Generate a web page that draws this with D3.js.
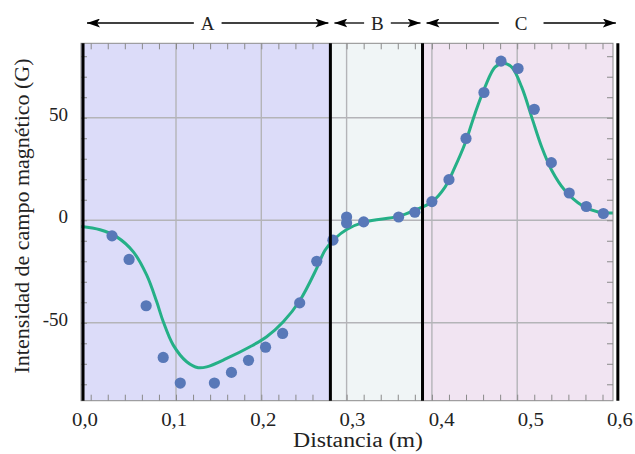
<!DOCTYPE html>
<html>
<head>
<meta charset="utf-8">
<script src="https://cdn.jsdelivr.net/npm/d3@7"></script>
<style>
  body { margin: 0; background: white; }
  text { font-family: "Liberation Serif", "DejaVu Serif", serif; fill: #222; }
</style>
</head>
<body>
<div id="dviz"></div>
<script>
//<<< Data >>>

// measured points (distance in m, field in G)
const pointX = [0.025, 0.045, 0.065, 0.085, 0.105, 0.145, 0.165, 0.185, 0.205, 0.225,
                0.245, 0.265, 0.284, 0.300, 0.300, 0.320, 0.361, 0.380, 0.400, 0.420,
                0.440, 0.461, 0.481, 0.501, 0.520, 0.540, 0.561, 0.581, 0.601];
const pointY = [-7.6, -19.1, -41.7, -66.9, -79.4, -79.4, -74.2, -68.3, -61.9, -55.2,
                -40.3, -20.0, -9.7, 1.6, -1.3, -0.8, 1.6, 3.9, 9.1, 19.8,
                39.9, 62.3, 77.6, 74.0, 54.1, 28.1, 13.3, 6.7, 3.3];

// model curve
const curveX = [-0.0114, 0.011, 0.0305, 0.050, 0.0657, 0.0774, 0.0851, 0.0968, 0.1125, 0.1261,
                0.136, 0.1594, 0.1868, 0.2063, 0.2258, 0.2454, 0.2649, 0.2747, 0.2864, 0.3001,
                0.3216, 0.3606, 0.3802, 0.3998, 0.4154, 0.4271, 0.4388, 0.4505, 0.4622, 0.474,
                0.4837, 0.4936, 0.5053, 0.517, 0.5287, 0.5404, 0.5558, 0.5756, 0.5951, 0.6127];
const curveY = [-3.0, -4.6, -8.1, -15.4, -26.8, -39.8, -49.5, -60.9, -69.0, -71.9,
                -71.5, -67.4, -61.7, -56.8, -49.5, -39.0, -23.5, -14.6, -8.9, -4.5,
                -0.8, 1.9, 4.9, 8.9, 16.2, 26.0, 37.4, 52.0, 64.9, 74.7,
                76.6, 74.7, 64.9, 50.3, 35.7, 24.4, 14.6, 7.3, 4.0, 3.6];

// regions and their borders
const regionNames = ["A", "B", "C"];
const regionBounds = [-0.009, 0.281, 0.389, 0.618];
const regionColors = ["#dcdcf9", "#f0f5f6", "#f1e4f2"];

// axes
const xTickLabels = ["0,0", "0,1", "0,2", "0,3", "0,4", "0,5", "0,6"];
const xTickValues = [0, 0.1, 0.2, 0.3, 0.4, 0.5, 0.6];
const xGrid = [0.1, 0.2, 0.3, 0.4, 0.5];
const yTickValues = [-50, 0, 50];
const yTickLabels = ["-50", "0", "50"];

//<<< Main >>>

var width = 635, height = 454;
var frame = {left: 81, right: 613, top: 43.3, bottom: 400.7};

const svg = d3.select("#dviz")
  .append("svg")
  .attr("width", width)
  .attr("height", height);

// grid scale (data) and a looser scale where the x labels sit
var xScale = d3.scaleLinear().domain([0, 0.6]).range([90.7, 602.5]);
var xLabelScale = d3.scaleLinear().domain([0, 0.6]).range([85, 620]);
var yScale = d3.scaleLinear().domain([-88, 86.3]).range([frame.bottom, frame.top]);

svg.append("defs").append("clipPath")
  .attr("id", "clip")
  .append("rect")
  .attr("x", frame.left)
  .attr("y", frame.top)
  .attr("width", frame.right - frame.left)
  .attr("height", frame.bottom - frame.top);

var plot = svg.append("g").attr("clip-path", "url(#clip)");

// background bands
plot.selectAll("rect.band")
  .data(regionNames)
  .enter()
  .append("rect")
  .attr("class", "band")
  .attr("x", function(d, i){ return xScale(regionBounds[i]) - (i == 0 ? 5 : 0); })
  .attr("width", function(d, i){ return xScale(regionBounds[i+1]) - xScale(regionBounds[i]) + (i == 0 ? 5 : 0); })
  .attr("y", frame.top)
  .attr("height", frame.bottom - frame.top)
  .attr("fill", function(d, i){ return regionColors[i]; });

// grid
plot.selectAll("line.vgrid")
  .data(xGrid)
  .enter()
  .append("line")
  .attr("x1", function(d){ return xScale(d); })
  .attr("x2", function(d){ return xScale(d); })
  .attr("y1", frame.top)
  .attr("y2", frame.bottom)
  .attr("stroke", "#b4b4b8")
  .attr("stroke-width", 1.4);

plot.selectAll("line.hgrid")
  .data(yTickValues)
  .enter()
  .append("line")
  .attr("y1", function(d){ return yScale(d); })
  .attr("y2", function(d){ return yScale(d); })
  .attr("x1", frame.left)
  .attr("x2", frame.right)
  .attr("stroke", "#b4b4b8")
  .attr("stroke-width", 1.4);

// frame with inner ticks on all four sides
var xMinor = d3.range(0, 0.601, 0.02);
var yMinor = d3.range(-80, 81, 10);

svg.append("g")
  .attr("transform", "translate(0," + frame.bottom + ")")
  .call(d3.axisTop(xScale).tickValues(xMinor).tickSize(6).tickSizeOuter(0).tickFormat(""));
svg.append("g")
  .attr("transform", "translate(0," + frame.top + ")")
  .call(d3.axisBottom(xScale).tickValues(xMinor).tickSize(6).tickSizeOuter(0).tickFormat(""));
svg.append("g")
  .attr("transform", "translate(" + frame.left + ",0)")
  .call(d3.axisRight(yScale).tickValues(yMinor).tickSize(6).tickSizeOuter(0).tickFormat(""));
svg.append("g")
  .attr("transform", "translate(" + frame.right + ",0)")
  .call(d3.axisLeft(yScale).tickValues(yMinor).tickSize(6).tickSizeOuter(0).tickFormat(""));

svg.selectAll(".domain").remove();
svg.selectAll(".tick line").attr("stroke", "#8a8a8a");

svg.append("rect")
  .attr("x", frame.left)
  .attr("y", frame.top)
  .attr("width", frame.right - frame.left)
  .attr("height", frame.bottom - frame.top)
  .attr("fill", "none")
  .attr("stroke", "#8a8a8a")
  .attr("stroke-width", 1);

// region borders (thick black)
svg.selectAll("line.border")
  .data(regionBounds)
  .enter()
  .append("line")
  .attr("x1", function(d){ return xScale(d); })
  .attr("x2", function(d){ return xScale(d); })
  .attr("y1", frame.top)
  .attr("y2", frame.bottom)
  .attr("stroke", "black")
  .attr("stroke-width", 3);

// model curve
var curveData = curveX.map(function(d, i){ return [d, curveY[i]]; });
plot.append("path")
  .datum(curveData)
  .attr("fill", "none")
  .attr("stroke", "#25b087")
  .attr("stroke-width", 3)
  .attr("d", d3.line()
    .curve(d3.curveCatmullRom)
    .x(function(d){ return xScale(d[0]); })
    .y(function(d){ return yScale(d[1]); }));

// points
plot.selectAll("circle")
  .data(pointX)
  .enter()
  .append("circle")
  .attr("cx", function(d){ return xScale(d); })
  .attr("cy", function(d, i){ return yScale(pointY[i]); })
  .attr("r", 5.6)
  .attr("fill", "#5878b8");

// tick labels (the original font is wider, so stretch a little)
svg.selectAll("text.xlab")
  .data(xTickValues)
  .enter()
  .append("text")
  .attr("x", function(d){ return xLabelScale(d); })
  .attr("y", 426)
  .attr("text-anchor", "middle")
  .attr("textLength", 26)
  .attr("lengthAdjust", "spacingAndGlyphs")
  .style("font-size", "18px")
  .text(function(d, i){ return xTickLabels[i]; });

svg.selectAll("text.ylab")
  .data(yTickValues)
  .enter()
  .append("text")
  .attr("x", 68)
  .attr("y", function(d){ return yScale(d) + 3; })
  .attr("text-anchor", "end")
  .style("font-size", "19px")
  .text(function(d, i){ return yTickLabels[i]; });

// axis titles
svg.append("text")
  .attr("x", 358)
  .attr("y", 447)
  .attr("text-anchor", "middle")
  .attr("textLength", 130)
  .attr("lengthAdjust", "spacingAndGlyphs")
  .style("font-size", "20px")
  .text("Distancia (m)");

svg.append("text")
  .attr("transform", "translate(29,216) rotate(-90)")
  .attr("text-anchor", "middle")
  .attr("textLength", 315)
  .attr("lengthAdjust", "spacingAndGlyphs")
  .style("font-size", "20px")
  .text("Intensidad de campo magnético (G)");

// arrows above each region
var defs = svg.select("defs");
defs.append("marker")
  .attr("id", "head")
  .attr("viewBox", "0 0 13 9")
  .attr("refX", 13)
  .attr("refY", 4.5)
  .attr("markerWidth", 13)
  .attr("markerHeight", 9)
  .attr("markerUnits", "userSpaceOnUse")
  .attr("orient", "auto-start-reverse")
  .append("path")
  .attr("d", "M0,0 L13,4.5 L0,9 L3,4.5 Z")
  .attr("fill", "black");

var arrowY = 23;
regionNames.forEach(function(name, i){
  var x0 = xScale(regionBounds[i]) + 4;
  var x1 = xScale(regionBounds[i+1]) - 2;
  var mid = (x0 + x1) / 2;
  var lab = svg.append("text")
    .attr("x", mid)
    .attr("y", arrowY + 6.5)
    .attr("text-anchor", "middle")
    .style("font-size", "19px")
    .text(name);
  var half = lab.node().getComputedTextLength() / 2 + (i == 2 ? 16 : 7);
  svg.append("line")
    .attr("x1", mid - half).attr("x2", x0)
    .attr("y1", arrowY).attr("y2", arrowY)
    .attr("stroke", "black").attr("stroke-width", 1.3)
    .attr("marker-end", "url(#head)");
  svg.append("line")
    .attr("x1", mid + half).attr("x2", x1)
    .attr("y1", arrowY).attr("y2", arrowY)
    .attr("stroke", "black").attr("stroke-width", 1.3)
    .attr("marker-end", "url(#head)");
});
</script>
</body>
</html>
